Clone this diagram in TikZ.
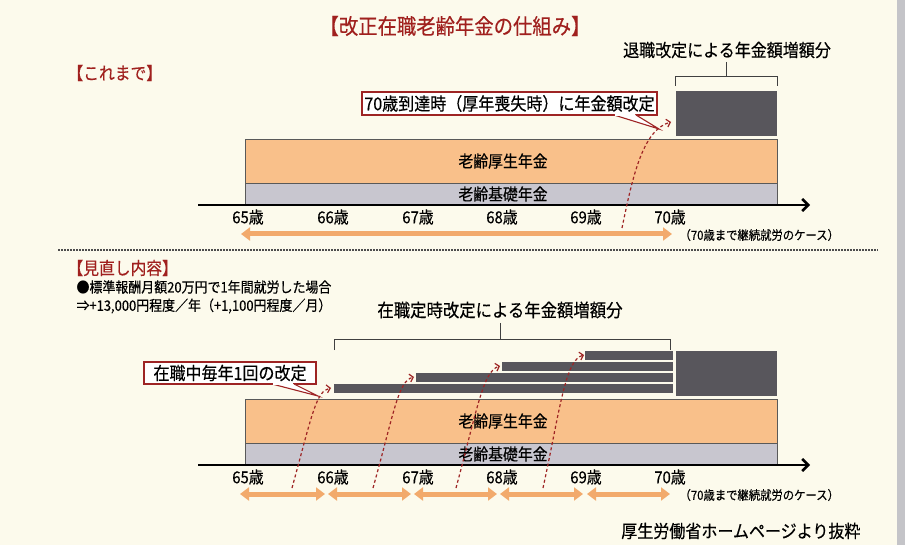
\documentclass[tikz,border=0pt]{standalone}
\usepackage{fontspec}
\setmainfont{Noto Sans CJK JP}[FakeStretch=0.9, FakeBold=0.35]
\usetikzlibrary{arrows.meta}
\definecolor{bg}{RGB}{252,250,236}
\definecolor{titlered}{RGB}{160,32,30}
\definecolor{dred}{RGB}{158,36,36}
\definecolor{oranbar}{RGB}{249,192,138}
\definecolor{graybar}{RGB}{200,198,207}
\definecolor{darkbox}{RGB}{88,86,92}
\definecolor{arrowor}{RGB}{242,170,108}
\definecolor{edgegray}{RGB}{196,196,200}
\tikzset{
  fs/.style={font=\fontsize{#1}{#1}\selectfont},
  titletext/.style={fs=21.5, text=titlered},
  sectext/.style={fs=17.5, text=titlered, anchor=west},
  lab/.style={fs=17.8, text=black},
  agelab/.style={fs=16.5, text=black},
  smalllab/.style={fs=12.6, text=black, anchor=west},
  notetext/.style={fs=14.4, text=black, anchor=west},
  orangeband/.style={fill=oranbar, draw=black!65, line width=0.7pt},
  grayband/.style={fill=graybar, draw=black!65, line width=0.7pt},
  darkbar/.style={fill=darkbox},
  bracketline/.style={draw=black!75, line width=0.8pt},
  callout/.style={draw=dred, line width=1.3pt, fill=white, inner sep=1pt, fs=17.8},
  axisline/.style={draw=black, line width=2.6pt, -{Straight Barb[length=6pt,width=12pt]}},
  dblarrow/.style={draw=arrowor, line width=5pt, {Triangle[width=13pt,length=9pt]}-{Triangle[width=13pt,length=9pt]}},
  redcurve/.style={draw=dred, line width=1.2pt, dash pattern=on 3pt off 2.5pt, -{Straight Barb[length=3.5pt,width=8pt]}},
  septline/.style={draw=black!70, line width=1.6pt, dash pattern=on 1.6pt off 1.4pt},
}
\begin{document}
\begin{tikzpicture}[x=1pt,y=-1pt]
\fill[bg] (0,0) rectangle (905,545);
\fill[edgegray] (897,0) rectangle (905,545);
\useasboundingbox (0,0) rectangle (905,545);

% title and headings
\node[titletext] (title) at (455,26) {【改正在職老齢年金の仕組み】};
\node[sectext] (hdr1) at (64,73) {【これまで】};
\node[sectext] (hdr2) at (64,268) {【見直し内容】};

%%%%%%%%%%%%%%%% upper part
\node[lab] (incr1) at (727,50) {退職改定による年金額増額分};
\coordinate (b1top) at (726,62);
\coordinate (b1mid) at (726,76);
\coordinate (b1l) at (675,76);
\coordinate (b1r) at (777,76);
\coordinate (b1ld) at (675,86);
\coordinate (b1rd) at (777,86);
\draw[bracketline] (b1top) -- (b1mid);
\draw[bracketline] (b1ld) -- (b1l) -- (b1r) -- (b1rd);
\fill[darkbar] (676,91) rectangle (777,136);

\fill[orangeband] (245,139) rectangle (777,183);
\fill[grayband] (245,183) rectangle (777,204);
\draw[orangeband, fill=none] (245,139) rectangle (777,183);
\draw[grayband, fill=none] (245,183) rectangle (777,204);
\node[lab, fs=16.5] (kosei1) at (503,161) {老齢厚生年金};
\node[lab, fs=16.5] (kiso1) at (503,194) {老齢基礎年金};

\coordinate (ax1s) at (198,205);
\coordinate (ax1e) at (810,205);
\draw[axisline] (ax1s) -- (ax1e);

\foreach \a/\x in {65/248,66/333,67/418,68/502,69/586,70/670}{
  \node[agelab] (ageA\a) at (\x,217) {\a 歳};
}
\coordinate (arA1) at (241,234);
\coordinate (arA2) at (672,234);
\draw[dblarrow] (arA1) -- (arA2);
\node[smalllab] (caseA) at (676,235) {（70歳まで継続就労のケース）};

% callout upper
\node[callout, minimum width=295pt, minimum height=23pt] (call1) at (509.5,103.5) {70歳到達時（厚年喪失時）に年金額改定};
\coordinate (t1a) at (614,115);
\coordinate (t1b) at (636,115);
\coordinate (t1tip) at (659,129);
\fill[white] (t1a) -- (t1tip) -- (t1b) -- cycle;
\draw[dred, line width=1.1pt] (t1a) -- (t1tip) -- (t1b);
\fill[white] (614.6,113.9) rectangle (635.4,116.3);

\coordinate (cA0) at (622,228);
\coordinate (cA1) at (671,122);
\draw[redcurve] (cA0) .. controls (632,180) and (642,130) .. (cA1);

% separator
\coordinate (sepL) at (58,250);
\coordinate (sepR) at (878,250);
\draw[septline] (sepL) -- (sepR);

%%%%%%%%%%%%%%%% lower part
\node[notetext] (note1) at (73,287) {●標準報酬月額20万円で1年間就労した場合};
\node[notetext] (note2) at (73,306) {⇒+13,000円程度／年（+1,100円程度／月）};

\node[lab, fs=18.2] (incr2) at (500,310) {在職定時改定による年金額増額分};
\coordinate (b2top) at (500,323);
\coordinate (b2mid) at (500,339);
\coordinate (b2l) at (334,339);
\coordinate (b2r) at (670,339);
\coordinate (b2ld) at (334,350);
\coordinate (b2rd) at (670,350);
\draw[bracketline] (b2top) -- (b2mid);
\draw[bracketline] (b2ld) -- (b2l) -- (b2r) -- (b2rd);

\fill[darkbar] (585,351) rectangle (673,359.5);
\fill[darkbar] (502,362) rectangle (673,370.5);
\fill[darkbar] (416,373) rectangle (673,381.5);
\fill[darkbar] (334,384) rectangle (673,393);
\fill[darkbar] (676,351) rectangle (777,396);

\fill[orangeband] (245,399) rectangle (777,443);
\fill[grayband] (245,443) rectangle (777,464);
\node[lab, fs=16.5] (kosei2) at (503,421) {老齢厚生年金};
\node[lab, fs=16.5] (kiso2) at (503,454) {老齢基礎年金};

\coordinate (ax2s) at (198,465);
\coordinate (ax2e) at (810,465);
\draw[axisline] (ax2s) -- (ax2e);

\foreach \a/\x in {65/248,66/333,67/418,68/502,69/586,70/670}{
  \node[agelab] (ageB\a) at (\x,477) {\a 歳};
}
\foreach \i/\l/\r in {1/240/325,2/328/411,3/414/497,4/500/583,5/587/670}{
  \coordinate (arBl\i) at (\l,494);
  \coordinate (arBr\i) at (\r,494);
  \draw[dblarrow] (arBl\i) -- (arBr\i);
}
\node[smalllab] (caseB) at (676,495) {（70歳まで継続就労のケース）};

% callout lower
\node[callout, minimum width=172pt, minimum height=22pt] (call2) at (230,373) {在職中毎年1回の改定};
\coordinate (t2a) at (272,384);
\coordinate (t2b) at (294,384);
\coordinate (t2tip) at (318,396);
\fill[white] (t2a) -- (t2tip) -- (t2b) -- cycle;
\draw[dred, line width=1.1pt] (t2a) -- (t2tip) -- (t2b);
\fill[white] (272.6,382.9) rectangle (293.4,385.3);

\coordinate (cB10) at (292,488);
\coordinate (cB11) at (331,388);
\draw[redcurve] (cB10) .. controls (312,415) and (316,391) .. (cB11);
\coordinate (cB20) at (373,488);
\coordinate (cB21) at (414,377);
\draw[redcurve] (cB20) .. controls (394,413) and (398,381) .. (cB21);
\coordinate (cB30) at (456,488);
\coordinate (cB31) at (500,366);
\draw[redcurve] (cB30) .. controls (477,410) and (483,371) .. (cB31);
\coordinate (cB40) at (543,488);
\coordinate (cB41) at (584,355);
\draw[redcurve] (cB40) .. controls (560,410) and (565,360) .. (cB41);

\node[lab, anchor=east] (source) at (864,531) {厚生労働省ホームページより抜粋};
\end{tikzpicture}
\end{document}
